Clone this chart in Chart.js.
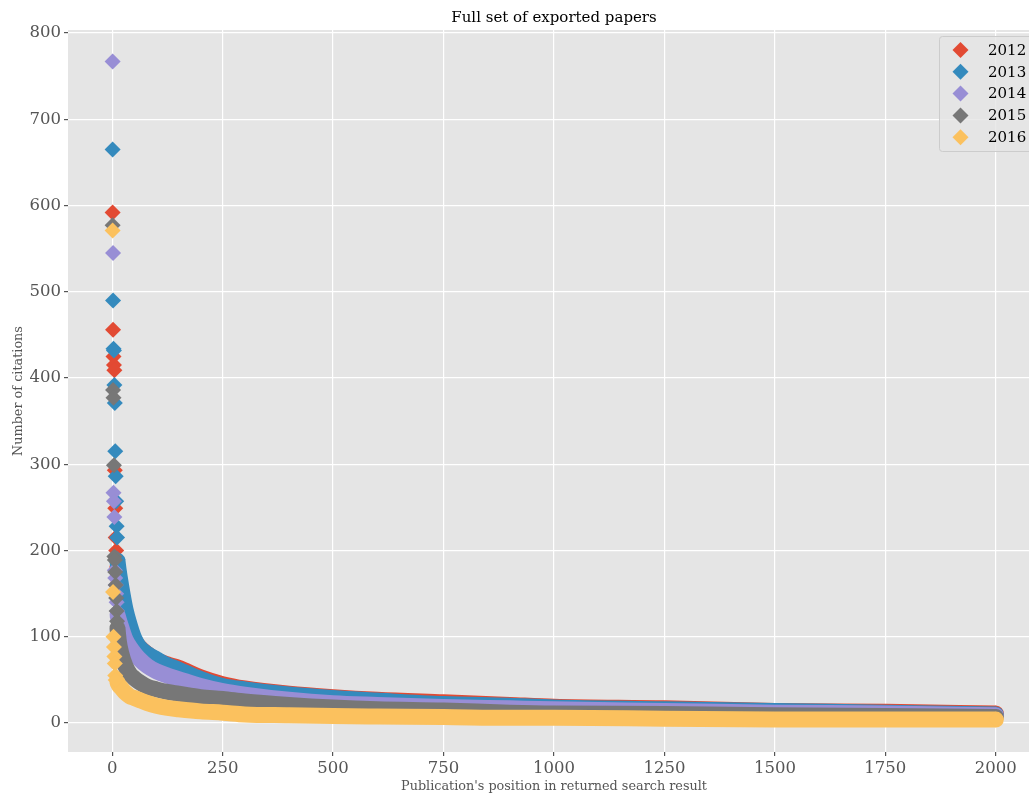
<!DOCTYPE html>
<html lang="en">
<head>
    <meta charset="UTF-8">
    <title>Full set of exported papers</title>
    <script src="https://cdn.jsdelivr.net/npm/chart.js@4.4.0/dist/chart.umd.min.js"></script>
    <style>
        html, body { margin: 0; padding: 0; overflow: hidden; background: #fff; }
        #wrap { width: 1040px; height: 794px; }
    </style>
</head>
<body>
    <div id="wrap"><canvas id="papersChart" width="1040" height="794"></canvas></div>

    <script>
        // Years in the export
        const years = ['2012', '2013', '2014', '2015', '2016'];

        // Most cited papers, positions 1, 2, 3 ... (drawn as separate markers)
        const top2012 = [592, 456, 425, 415, 409, 293, 249, 215, 200, 188];
        const top2013 = [665, 490, 434, 432, 392, 371, 315, 286, 257, 228, 215, 190];
        const top2014 = [767, 545, 267, 257, 239, 177, 168, 160, 150, 140, 130];
        const top2015 = [577, 386, 377, 299, 193, 189, 175, 160, 145, 130, 118];
        const top2016 = [571, 152, 100, 88, 77, 69, 55, 50];

        // Long tail, read at these positions
        const tailRanks = [12, 15, 20, 30, 40, 50, 60, 80, 100, 125, 150, 200, 250, 300, 400, 500, 600, 750, 900, 1000, 1250, 1500, 1750, 2000];
        const tail2012 = [180, 165, 145, 120, 106, 96, 89, 80, 73, 68, 64, 53, 45, 40, 34, 30, 27, 24, 21, 19, 17, 14, 13, 11];
        const tail2013 = [188, 176, 160, 132, 113, 98, 89, 80, 74, 67, 62, 51, 43, 39, 33, 29, 26, 22, 20, 18, 16, 14, 12, 10];
        const tail2014 = [125, 120, 112, 97, 88, 81, 75, 66, 60, 55, 51, 43, 37, 33, 27, 23, 21, 18.5, 17, 16, 14, 12, 11, 9];
        const tail2015 = [110, 95, 82, 66, 57, 52, 48, 42, 39, 36, 34, 30, 28, 25, 21, 18, 16, 14.5, 12, 11, 10.5, 9, 8, 7];
        const tail2016 = [47, 44, 41, 35, 31, 29, 27, 23, 20, 17.5, 16, 13.5, 12, 10, 9, 8, 7.5, 7, 6, 6, 5, 4, 4, 4];

        // Axis ticks
        const xTicks = [0, 250, 500, 750, 1000, 1250, 1500, 1750, 2000];
        const yTicks = [0, 100, 200, 300, 400, 500, 600, 700, 800];

        const topSeries = [top2012, top2013, top2014, top2015, top2016];
        const tailSeries = [tail2012, tail2013, tail2014, tail2015, tail2016];
        const colors = ['#E24A33', '#348ABD', '#988ED5', '#777777', '#FBC15E'];
        const serif = 'DejaVu Serif';
        const markerSize = 8;

        // later years are painted over earlier ones
        const datasets = [];
        years.forEach((year, k) => {
            const layer = (years.length - k) * 2;
            datasets.push({
                type: 'line',
                label: year,
                data: tailSeries[k].map((v, i) => ({ x: tailRanks[i], y: v })),
                borderColor: colors[k],
                borderWidth: markerSize * 2,
                borderJoinStyle: 'round',
                borderCapStyle: 'round',
                cubicInterpolationMode: 'monotone',
                fill: false,
                pointStyle: 'rectRot',
                pointRadius: ctx => ctx.dataIndex === tailRanks.length - 1 ? markerSize : 0,
                pointBackgroundColor: colors[k],
                pointBorderWidth: 0,
                order: layer
            });
            datasets.push({
                type: 'scatter',
                label: year + ' top',
                data: topSeries[k].map((v, i) => ({ x: i + 1, y: v })),
                pointStyle: 'rectRot',
                pointRadius: markerSize,
                backgroundColor: colors[k],
                borderWidth: 0,
                order: layer - 1
            });
        });

        // grey panel behind the plot
        const panelBackground = {
            id: 'panelBackground',
            beforeDraw(chart) {
                const a = chart.chartArea;
                chart.ctx.save();
                chart.ctx.fillStyle = '#E5E5E5';
                chart.ctx.fillRect(a.left, a.top, a.right - a.left, a.bottom - a.top);
                chart.ctx.restore();
            }
        };

        // boxed legend in the upper right corner
        const legendBox = {
            id: 'legendBox',
            afterDraw(chart) {
                const ctx = chart.ctx;
                ctx.save();
                ctx.fillStyle = 'rgba(229,229,229,0.8)';
                ctx.strokeStyle = '#CCCCCC';
                ctx.lineWidth = 1;
                ctx.beginPath();
                ctx.roundRect(939.5, 36.5, 97, 115, 3);
                ctx.fill();
                ctx.stroke();
                ctx.font = '15px "' + serif + '"';
                ctx.textBaseline = 'middle';
                years.forEach((year, k) => {
                    const y = 50 + k * 21.8;
                    ctx.fillStyle = colors[k];
                    ctx.beginPath();
                    ctx.moveTo(960.5, y - markerSize);
                    ctx.lineTo(960.5 + markerSize, y);
                    ctx.lineTo(960.5, y + markerSize);
                    ctx.lineTo(960.5 - markerSize, y);
                    ctx.closePath();
                    ctx.fill();
                    ctx.fillStyle = '#000';
                    ctx.fillText(year, 988, y + 1);
                });
                ctx.restore();
            }
        };

        const tickFont = { family: serif, size: 16.5 };
        const labelFont = { family: serif, size: 12.8 };

        new Chart(document.getElementById('papersChart'), {
            type: 'scatter',
            data: { datasets: datasets },
            options: {
                responsive: false,
                animation: false,
                layout: { padding: 0, autoPadding: false },
                plugins: {
                    legend: { display: false },
                    tooltip: { enabled: false },
                    title: {
                        display: true,
                        text: 'Full set of exported papers',
                        fullSize: false,
                        color: '#000',
                        font: { family: serif, size: 15, weight: 'normal' },
                        padding: { top: 9, bottom: 3 }
                    }
                },
                scales: {
                    x: {
                        type: 'linear',
                        min: -100,
                        max: 2100,
                        afterBuildTicks: s => { s.ticks = xTicks.map(v => ({ value: v })); },
                        afterFit: s => { s.height = 42; s.paddingLeft = 0; s.paddingRight = 0; },
                        border: { display: false },
                        grid: { color: '#FFFFFF', lineWidth: 1.2, tickColor: '#555555', tickLength: 4 },
                        ticks: { color: '#555555', font: tickFont, padding: 3, maxRotation: 0, callback: v => String(v) },
                        title: { display: true, text: "Publication's position in returned search result", color: '#555555', font: labelFont, padding: { top: 0, bottom: 0 } }
                    },
                    y: {
                        type: 'linear',
                        min: -33.6,
                        max: 803.5,
                        afterBuildTicks: s => { s.ticks = yTicks.map(v => ({ value: v })); },
                        afterFit: s => { s.width = 68; s.paddingTop = 0; s.paddingBottom = 0; },
                        border: { display: false },
                        grid: { color: '#FFFFFF', lineWidth: 1.2, tickColor: '#555555', tickLength: 4 },
                        ticks: { color: '#555555', font: tickFont, padding: 3, callback: v => String(v) },
                        title: { display: true, text: 'Number of citations', color: '#555555', font: labelFont, padding: { top: 11, bottom: 0 } }
                    }
                }
            },
            plugins: [panelBackground, legendBox]
        });
    </script>
</body>
</html>
